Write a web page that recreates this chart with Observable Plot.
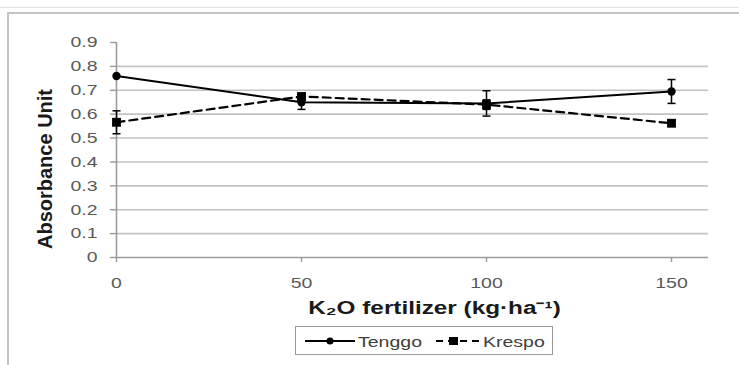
<!DOCTYPE html>
<html><head><meta charset="utf-8">
<script src="https://cdn.jsdelivr.net/npm/d3@7"></script>
<script src="https://cdn.jsdelivr.net/npm/@observablehq/plot@0.6"></script>
<style>
body{margin:0;background:#fff;font-family:"Liberation Sans",Arial,sans-serif;}
#wrap{position:relative;width:739px;height:365px;overflow:hidden;background:#fff;}
#topline{position:absolute;left:0;top:7px;width:739px;height:0;border-top:1px solid #e2e2e2;}
#frame{position:absolute;left:7px;top:12px;width:800px;height:400px;border-left:2px solid #c4c4c4;border-top:2px solid #c4c4c4;}
#chart{position:absolute;left:0;top:0;}
#legend{position:absolute;left:295px;top:326px;width:256px;height:27px;border:1px solid #9a9a9a;background:#fff;}
</style></head><body>
<div id="wrap"><div id="topline"></div><div id="frame"></div><div id="chart"></div><div id="legend"></div></div>
<script>
// ---- data ----
const doses = [0, 50, 100, 150];
const tenggo = [0.76, 0.65, 0.645, 0.695];
const tenggoErr = [0, 0.03, 0.053, 0.05];
const krespo = [0.566, 0.674, 0.64, 0.562];
const krespoErr = [0.048, 0.012, 0.02, 0.008];
const seriesNames = ["Tenggo", "Krespo"];
const yTicks = [0, 0.1, 0.2, 0.3, 0.4, 0.5, 0.6, 0.7, 0.8, 0.9];
const gridValues = [0.1, 0.2, 0.3, 0.4, 0.5, 0.6, 0.7, 0.8];
const xTicks = [0, 50, 100, 150];
const xTitle = "K₂O fertilizer (kg·ha⁻¹)";
const yTitle = "Absorbance Unit";

const rows = [];
doses.forEach((d, i) => {
  rows.push({series: seriesNames[0], dose: d, value: tenggo[i], err: tenggoErr[i]});
  rows.push({series: seriesNames[1], dose: d, value: krespo[i], err: krespoErr[i]});
});
const tRows = rows.filter(r => r.series === "Tenggo");
const kRows = rows.filter(r => r.series === "Krespo");

const capSymbol = {draw(ctx, size) { const r = Math.sqrt(size / Math.PI); ctx.moveTo(-r, 0); ctx.lineTo(r, 0); }};
const axisGray = "#9b9b9b";
const textGray = "#595959";

const plot = Plot.plot({
  width: 739,
  height: 322,
  marginLeft: 116,
  marginRight: 31,
  marginTop: 42,
  marginBottom: 65,
  style: {fontFamily: '"Liberation Sans", Arial, sans-serif', background: "transparent"},
  x: {domain: [0, 160]},
  y: {domain: [0, 0.9]},
  marks: [
    Plot.ruleY(gridValues, {stroke: "#c3c3c3", strokeWidth: 1.6}),
    Plot.ruleY([0], {stroke: axisGray, strokeWidth: 1.6}),
    Plot.ruleX([0], {stroke: axisGray, strokeWidth: 1.6}),
    Plot.axisY(yTicks, {tickSize: 6, tickPadding: 13, fontSize: 15, stroke: axisGray, strokeWidth: 1.4, fill: textGray, label: null,
      tickFormat: d => d === 0 ? "0" : d.toFixed(1)}),
    Plot.axisX(xTicks, {tickSize: 5, tickPadding: 15, fontSize: 15, stroke: axisGray, strokeWidth: 1.4, fill: textGray, label: null,
      tickFormat: d => String(d)}),
    Plot.line(tRows, {x: "dose", y: "value", stroke: "#000", strokeWidth: 2}),
    Plot.line(kRows, {x: "dose", y: "value", stroke: "#000", strokeWidth: 2.2, strokeDasharray: "8,5"}),
    Plot.ruleX(rows.filter(r => r.err > 0), {x: "dose", y1: d => d.value - d.err, y2: d => d.value + d.err, stroke: "#000", strokeWidth: 1.5}),
    Plot.dot(rows.filter(r => r.err > 0), {x: "dose", y: d => d.value - d.err, symbol: capSymbol, r: 4, stroke: "#000", strokeWidth: 1.5, fill: "none"}),
    Plot.dot(rows.filter(r => r.err > 0), {x: "dose", y: d => d.value + d.err, symbol: capSymbol, r: 4, stroke: "#000", strokeWidth: 1.5, fill: "none"}),
    Plot.dot(tRows, {x: "dose", y: "value", symbol: "circle", r: 4.2, fill: "#000", stroke: "none"}),
    Plot.dot(kRows, {x: "dose", y: "value", symbol: "square", r: 5, fill: "#000", stroke: "none"}),
    Plot.text([xTitle], {frameAnchor: "bottom", dy: 51, dx: 22, fontSize: 18, fontWeight: "bold", fill: "#1a1a1a", lineAnchor: "middle", textAnchor: "middle"}),
    Plot.text([yTitle], {frameAnchor: "left", rotate: -90, dx: -71, dy: 19, fontSize: 20, fontWeight: "bold", fill: "#1a1a1a", lineAnchor: "middle", textAnchor: "middle"})
  ]
});
document.getElementById("chart").append(plot);

// the reference's text is horizontally stretched
function stretch(t, s) {
  const L = t.getComputedTextLength();
  t.setAttribute("textLength", (L * s).toFixed(1));
  t.setAttribute("lengthAdjust", "spacingAndGlyphs");
}
plot.querySelectorAll("text").forEach(t => {
  const s = t.textContent;
  if (s === yTitle) return;
  stretch(t, s === xTitle ? 1.35 : 1.3);
});

// legend
const lg = d3.select("#legend").append("svg").attr("width", 256).attr("height", 27).style("display", "block");
lg.append("line").attr("x1", 9).attr("x2", 59).attr("y1", 14).attr("y2", 14).attr("stroke", "#000").attr("stroke-width", 2);
lg.append("circle").attr("cx", 34).attr("cy", 14).attr("r", 3.5).attr("fill", "#000");
lg.append("line").attr("x1", 140).attr("x2", 186).attr("y1", 14).attr("y2", 14).attr("stroke", "#000").attr("stroke-width", 2.2).attr("stroke-dasharray", "7,5");
lg.append("rect").attr("x", 153).attr("y", 10).attr("width", 9).attr("height", 8).attr("fill", "#000");
const lt = [["Tenggo", 62], ["Krespo", 187]];
lt.forEach(([s, x]) => {
  const t = lg.append("text").attr("x", x).attr("y", 20).attr("font-size", 15).attr("fill", "#404040")
    .attr("font-family", '"Liberation Sans", Arial, sans-serif').text(s);
  stretch(t.node(), 1.3);
});
</script>
</body></html>
